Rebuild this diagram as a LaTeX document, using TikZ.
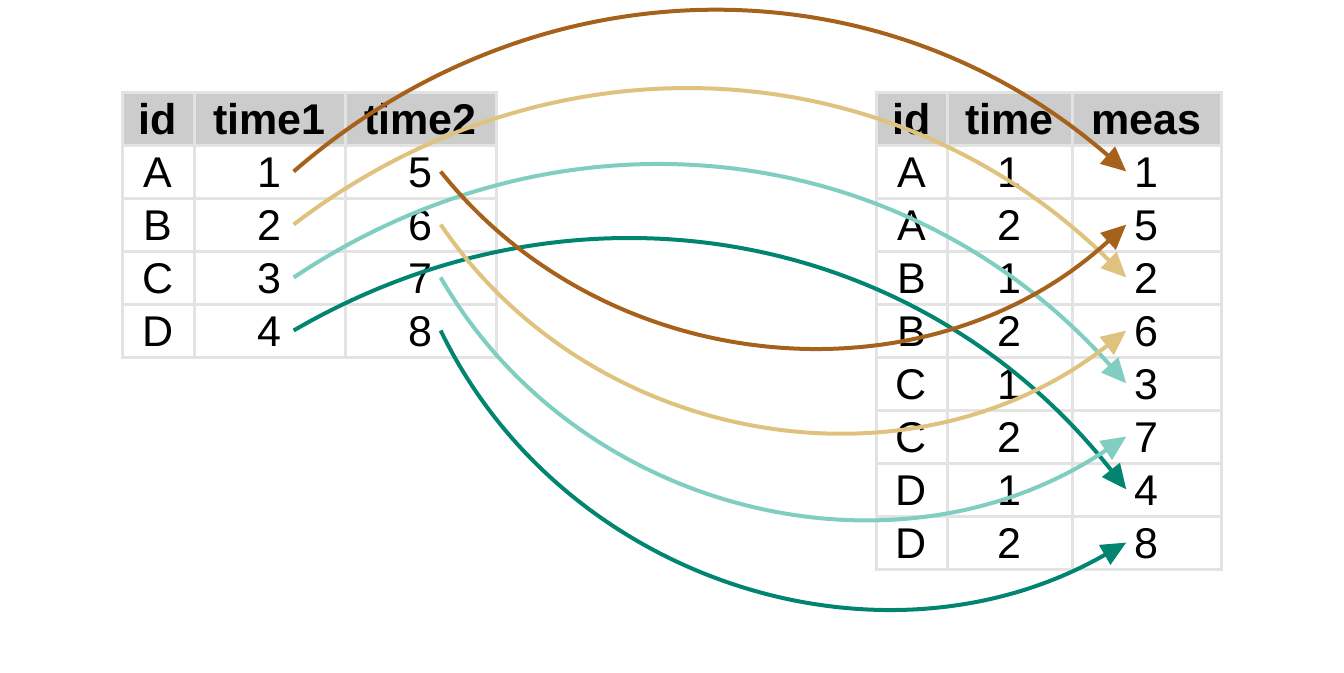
\documentclass[tikz,border=0pt]{standalone}
\usepackage{fontspec}
\setmainfont{Liberation Sans}
\usetikzlibrary{arrows.meta}
\definecolor{cbrown}{HTML}{A6611A}
\definecolor{ctan}{HTML}{DFC27D}
\definecolor{clteal}{HTML}{80CDC1}
\definecolor{cdteal}{HTML}{018571}
\definecolor{headgray}{HTML}{CCCCCC}
\definecolor{gridgray}{HTML}{E3E3E3}
\begin{document}
\begin{tikzpicture}[x=1pt,y=-1pt,
  cell/.style={inner xsep=8pt, inner ysep=0pt, text height=31pt, text depth=0pt, font=\fontsize{43}{48}\selectfont},
  head/.style={cell, font=\fontsize{43}{48}\selectfont\bfseries},
  gridline/.style={draw=gridgray, line width=3pt},
  link/.style={line width=4pt, -{Triangle[length=25pt,width=22pt]}},
]
\useasboundingbox (0,0) rectangle (1344,672);
% left table
\fill[headgray] (122,92) rectangle (496,145);
\foreach \y in {145,198,251,304} \draw[gridline] (122,\y) -- (496,\y);
\foreach \x in {194,345} \draw[gridline] (\x,92) -- (\x,357);
\draw[gridline] (122,92) rectangle (496,357);
\node[head] (lh1) at (158,118.5) {id};
\node[head] (lh2) at (269.5,118.5) {time1};
\node[head] (lh3) at (420.5,118.5) {time2};
\foreach \i/\id/\a/\b in {1/A/1/5,2/B/2/6,3/C/3/7,4/D/4/8}{
  \node[cell] (lid\i) at (158,{118.5+53*\i}) {\id};
  \node[cell] (lta\i) at (269.5,{118.5+53*\i}) {\a};
  \node[cell] (ltb\i) at (420.5,{118.5+53*\i}) {\b};
}
% right table
\fill[headgray] (876,92) rectangle (1221,145);
\foreach \y in {145,198,251,304,357,410,463,516} \draw[gridline] (876,\y) -- (1221,\y);
\foreach \x in {947,1072} \draw[gridline] (\x,92) -- (\x,569);
\draw[gridline] (876,92) rectangle (1221,569);
\node[head] (rh1) at (911.5,118.5) {id};
\node[head] (rh2) at (1009.5,118.5) {time};
\node[head] (rh3) at (1146.5,118.5) {meas};
\foreach \i/\id/\t/\m in {1/A/1/1,2/A/2/5,3/B/1/2,4/B/2/6,5/C/1/3,6/C/2/7,7/D/1/4,8/D/2/8}{
  \node[cell] (rid\i) at (911.5,{118.5+53*\i}) {\id};
  \node[cell] (rt\i) at (1009.5,{118.5+53*\i}) {\t};
  \node[cell] (rm\i) at (1146.5,{118.5+53*\i}) {\m};
}
% arrows
\draw[link,cbrown] ([xshift=4pt]lta1.east) to[bend left=41] (rm1.west);
\draw[link,ctan] ([xshift=4pt]lta2.east) to[bend left=41] (rm3.west);
\draw[link,clteal] ([xshift=4pt]lta3.east) to[bend left=41] (rm5.west);
\draw[link,cdteal] ([xshift=4pt]lta4.east) to[bend left=41] (rm7.west);
\draw[link,cbrown] (ltb1.east) to[bend right=47] (rm2.west);
\draw[link,ctan] (ltb2.east) to[bend right=47] (rm4.west);
\draw[link,clteal] (ltb3.east) to[bend right=47] (rm6.west);
\draw[link,cdteal] (ltb4.east) to[bend right=47] (rm8.west);
\end{tikzpicture}
\end{document}
